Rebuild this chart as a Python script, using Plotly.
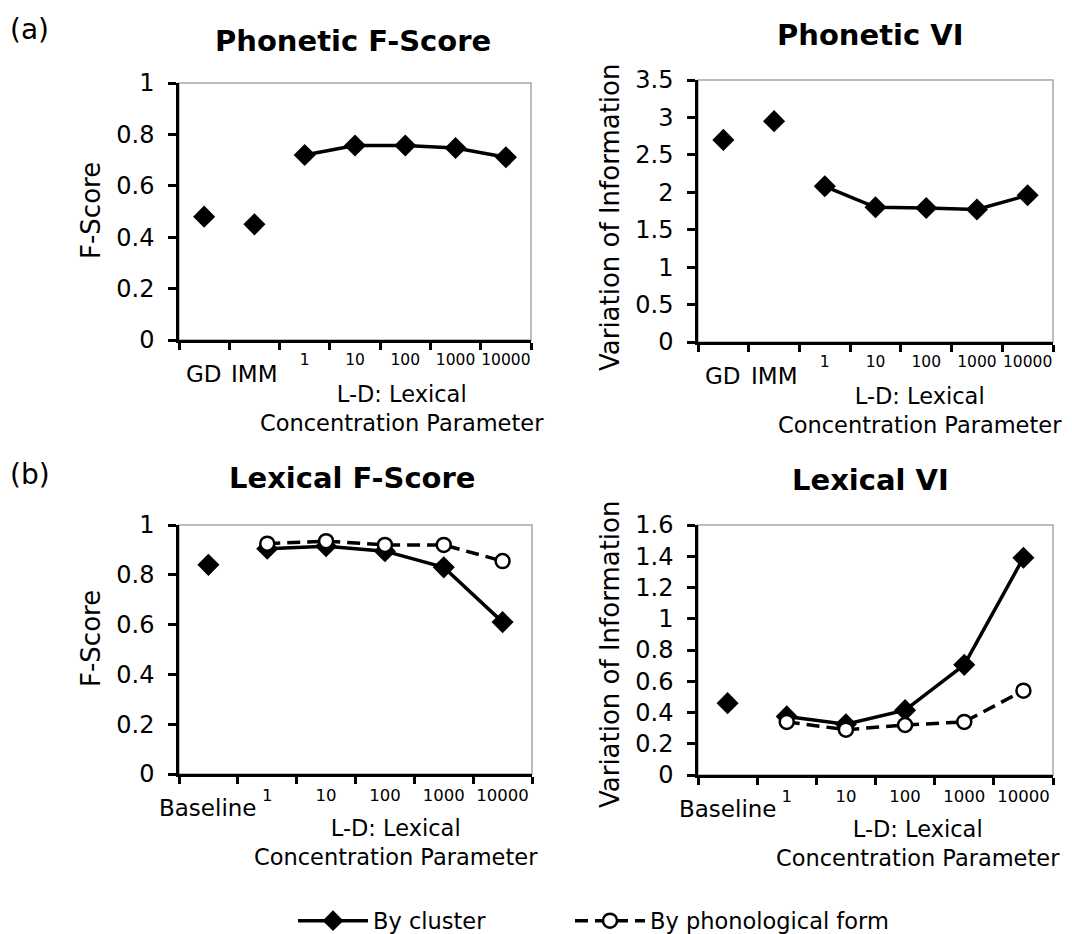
import plotly.graph_objects as go

# ---------------- data ----------------
phon_cats = ["GD", "IMM", "1", "10", "100", "1000", "10000"]
lex_cats = ["Baseline", "1", "10", "100", "1000", "10000"]
ld_cats = ["1", "10", "100", "1000", "10000"]

phon_models = ["GD", "IMM"]
phon_f_models = [0.48, 0.45]
phon_f_ld = [0.72, 0.757, 0.757, 0.747, 0.711]

phon_vi_models = [2.70, 2.95]
phon_vi_ld = [2.08, 1.80, 1.79, 1.77, 1.96]

lex_base = ["Baseline"]
lex_f_base = [0.84]
lex_f_cluster = [0.905, 0.915, 0.895, 0.83, 0.61]
lex_f_form = [0.925, 0.935, 0.92, 0.92, 0.855]

lex_vi_base = [0.46]
lex_vi_cluster = [0.375, 0.325, 0.415, 0.705, 1.39]
lex_vi_form = [0.34, 0.29, 0.32, 0.34, 0.54]

titles = ["Phonetic F-Score", "Phonetic VI", "Lexical F-Score", "Lexical VI"]
ytitles = ["F-Score", "Variation of Information", "F-Score", "Variation of Information"]
xtitle = "L-D: Lexical<br>Concentration Parameter"
series_names = ["By cluster", "By phonological form"]

# ---------------- layout helpers ----------------
W, H = 1072, 934
FONT = "DejaVu Sans, Verdana, sans-serif"


def px_x(v):
    return v / W


def px_y(v):
    return 1 - v / H


# panel boxes in pixels: (left, right, top, bottom)
boxes = [
    (171, 523, 75, 332),
    (690, 1045, 72, 334),
    (171, 524, 517, 766),
    (690, 1045, 517, 767),
]

fig = go.Figure()

diamond = dict(symbol="diamond", size=17, color="black", line=dict(width=0))
circle = dict(symbol="circle", size=14, color="white", line=dict(color="black", width=2.5))
solid = dict(color="black", width=3.5)
dashed = dict(color="black", width=3.5, dash="13px,7px")


def axref(i):
    return ("x" if i == 0 else f"x{i+1}", "y" if i == 0 else f"y{i+1}")


# Panel 1
fig.add_trace(go.Scatter(x=phon_models, y=phon_f_models, mode="markers", marker=diamond,
                         showlegend=False, xaxis="x", yaxis="y", cliponaxis=False))
fig.add_trace(go.Scatter(x=ld_cats, y=phon_f_ld, mode="lines+markers", marker=diamond, line=solid,
                         showlegend=False, xaxis="x", yaxis="y", cliponaxis=False))
# Panel 2
fig.add_trace(go.Scatter(x=phon_models, y=phon_vi_models, mode="markers", marker=diamond,
                         showlegend=False, xaxis="x2", yaxis="y2", cliponaxis=False))
fig.add_trace(go.Scatter(x=ld_cats, y=phon_vi_ld, mode="lines+markers", marker=diamond, line=solid,
                         showlegend=False, xaxis="x2", yaxis="y2", cliponaxis=False))
# Panel 3
fig.add_trace(go.Scatter(x=lex_base, y=lex_f_base, mode="markers", marker=diamond,
                         showlegend=False, xaxis="x3", yaxis="y3", cliponaxis=False))
fig.add_trace(go.Scatter(x=ld_cats, y=lex_f_cluster, mode="lines+markers", marker=diamond, line=solid,
                         name=series_names[0], showlegend=True, legend="legend",
                         xaxis="x3", yaxis="y3", cliponaxis=False))
fig.add_trace(go.Scatter(x=ld_cats, y=lex_f_form, mode="lines+markers", marker=circle, line=dashed,
                         name=series_names[1], showlegend=True, legend="legend2",
                         xaxis="x3", yaxis="y3", cliponaxis=False))
# Panel 4
fig.add_trace(go.Scatter(x=lex_base, y=lex_vi_base, mode="markers", marker=diamond,
                         showlegend=False, xaxis="x4", yaxis="y4", cliponaxis=False))
fig.add_trace(go.Scatter(x=ld_cats, y=lex_vi_cluster, mode="lines+markers", marker=diamond, line=solid,
                         showlegend=False, xaxis="x4", yaxis="y4", cliponaxis=False))
fig.add_trace(go.Scatter(x=ld_cats, y=lex_vi_form, mode="lines+markers", marker=circle, line=dashed,
                         showlegend=False, xaxis="x4", yaxis="y4", cliponaxis=False))

cats_for = [phon_cats, phon_cats, lex_cats, lex_cats]
yranges = [(1.0, 0.2), (3.5, 0.5), (1.0, 0.2), (1.6, 0.2)]
num_font = [15.5, 15.5, 16.5, 16.5]

legend_common = dict(orientation="h", y=px_y(913), xanchor="left", yanchor="middle",
                     font=dict(size=22.5, family=FONT), itemwidth=70,
                     bgcolor="rgba(0,0,0,0)", itemclick=False, itemdoubleclick=False)

layout = dict(
    width=W, height=H,
    margin=dict(l=0, r=0, t=0, b=0, pad=0, autoexpand=False),
    paper_bgcolor="white", plot_bgcolor="white",
    font=dict(family=FONT, color="black", size=23),
    showlegend=True,
    legend=dict(x=px_x(285), **legend_common),
    legend2=dict(x=px_x(562), **legend_common),
)

annotations = []
shapes = []
for i in range(4):
    l, r, t, b = boxes[i]
    xa_name = "xaxis" if i == 0 else f"xaxis{i+1}"
    ya_name = "yaxis" if i == 0 else f"yaxis{i+1}"
    xr, yr = axref(i)
    cats = cats_for[i]
    ymax, dt = yranges[i]
    layout[xa_name] = dict(
        domain=[px_x(l), px_x(r)], anchor=yr, automargin=False,
        type="category", categoryorder="array", categoryarray=cats,
        range=[-0.5, len(cats) - 0.5],
        tickmode="array", tickvals=cats,
        ticktext=[c if c in ld_cats else "" for c in cats],
        tickson="boundaries", ticks="outside", ticklen=7, tickwidth=2.5, tickcolor="black",
        tickangle=0,
        showline=True, linecolor="black", linewidth=2.5, showgrid=False, zeroline=False,
        tickfont=dict(size=num_font[i], family=FONT), ticklabelstandoff=4, fixedrange=True,
    )
    layout[ya_name] = dict(
        domain=[px_y(b), px_y(t)], anchor=xr, automargin=False,
        range=[0, ymax], tickmode="linear", tick0=0, dtick=dt,
        ticks="outside", ticklen=8, tickwidth=2.5, tickcolor="black",
        showline=True, linecolor="black", linewidth=2.5, showgrid=False, zeroline=False,
        tickfont=dict(size=24, family=FONT), ticklabelstandoff=9, fixedrange=True,
    )
    # grey frame (top / right)
    shapes.append(dict(type="rect", xref=f"{xr} domain", yref=f"{yr} domain",
                       x0=0, x1=1, y0=0, y1=1, line=dict(color="#a6a6a6", width=1.5),
                       layer="below"))
    # text category labels (larger font, slightly lower)
    for c in cats:
        if c not in ld_cats:
            annotations.append(dict(x=c, xref=xr, y=0, yref=f"{yr} domain", yshift=-34,
                                    text=c, showarrow=False, yanchor="middle",
                                    font=dict(size=23, family=FONT)))
    # x axis title
    annotations.append(dict(x=[0.633, 0.625, 0.615, 0.62][i], xref=f"{xr} domain",
                            y=0, yref=f"{yr} domain", yshift=-68,
                            text=xtitle, showarrow=False, yanchor="middle", align="center",
                            font=dict(size=22.5, family=FONT)))

# panel titles
title_pos = [(345, 33), (862, 27), (344, 470), (862, 472)]
for txt, (x, y) in zip(titles, title_pos):
    annotations.append(dict(x=px_x(x), y=px_y(y), xref="paper", yref="paper", text=f"<b>{txt}</b>",
                            showarrow=False, xanchor="center", yanchor="middle",
                            font=dict(size=29, family=FONT)))
# y titles
ytitle_pos = [(83, 203), (602, 210), (83, 631), (602, 647)]
for txt, (x, y) in zip(ytitles, ytitle_pos):
    annotations.append(dict(x=px_x(x), y=px_y(y), xref="paper", yref="paper", text=txt,
                            showarrow=False, textangle=-90, xanchor="center", yanchor="middle",
                            font=dict(size=26, family=FONT)))
# panel letters
for txt, y in [("(a)", 22), ("(b)", 466)]:
    annotations.append(dict(x=0, y=px_y(y), xref="paper", yref="paper", text=txt,
                            showarrow=False, xanchor="left", yanchor="middle",
                            font=dict(size=28, family=FONT)))

layout["annotations"] = annotations
layout["shapes"] = shapes
fig.update_layout(**layout)

fig.write_html("out.html")
